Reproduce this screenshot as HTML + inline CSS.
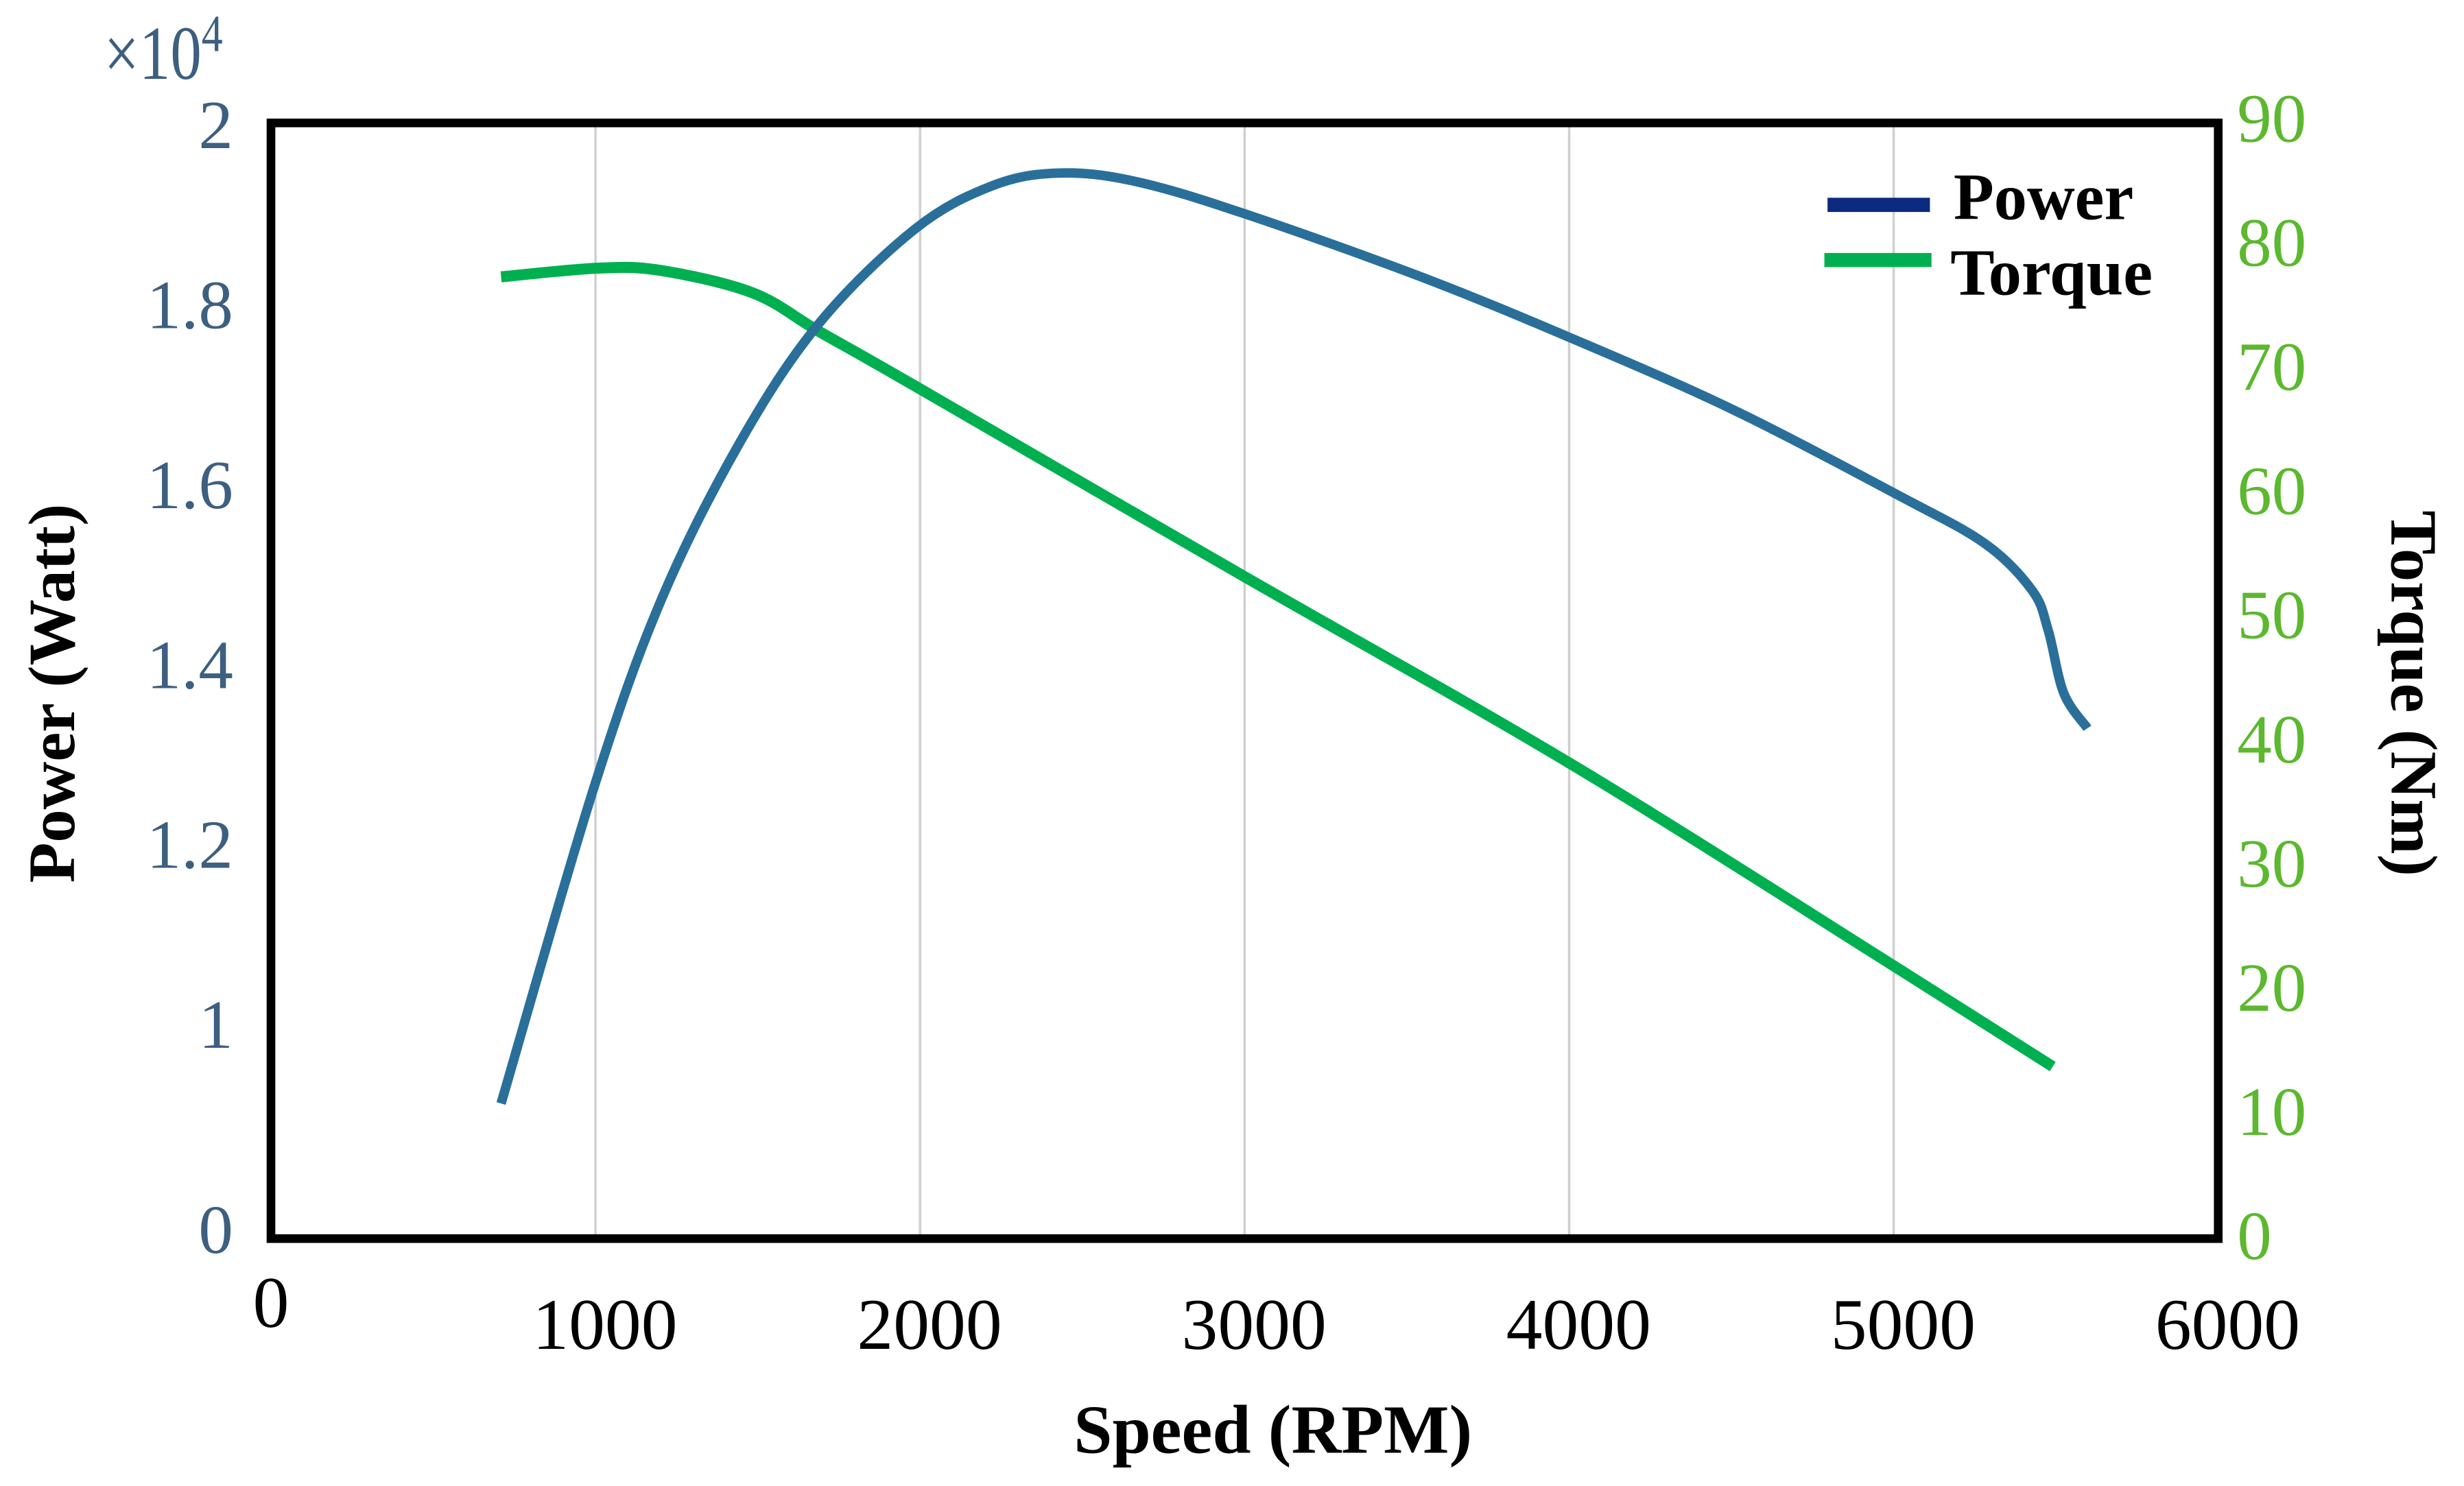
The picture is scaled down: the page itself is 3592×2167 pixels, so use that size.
<!DOCTYPE html>
<html><head><meta charset="utf-8"><style>
html,body{margin:0;padding:0;background:#fff;}
svg{display:block;}
text{font-family:"Liberation Serif",serif;}
</style></head><body>
<svg id="chart" width="3592" height="2167" viewBox="0 0 1564 943" preserveAspectRatio="none" xmlns="http://www.w3.org/2000/svg">
<g id="grid"></g>
<g id="series"></g>
<rect x="172" y="78" width="1236" height="708" fill="none" stroke="#000" stroke-width="5.5"/>
<g id="ticks"></g>
<text x="66" y="50" font-size="44" fill="#3d5f80" transform="translate(66,50) scale(0.9,1.1) translate(-66,-50)">×10<tspan dy="-16" font-size="30">4</tspan></text>
<text x="808" y="922" font-size="44" font-weight="bold" text-anchor="middle">Speed (RPM)</text>
<text transform="translate(47,440) rotate(-90)" font-size="42" font-weight="bold" text-anchor="middle">Power (Watt)</text>
<text transform="translate(1518,440) rotate(90)" font-size="42" font-weight="bold" text-anchor="middle">Torque (Nm)</text>
<g>
<line x1="1160" y1="130" x2="1225" y2="130" stroke="#0b2a80" stroke-width="9"/>
<text x="1240" y="139" font-size="42" font-weight="bold">Power</text>
<line x1="1158" y1="165" x2="1226" y2="165" stroke="#00b050" stroke-width="9"/>
<text x="1238" y="187" font-size="42" font-weight="bold">Torque</text>
</g>
</svg>
<script>
const speedPower=[709,995,1204,1447,1689,1985,2223,2427,2660,2990,3534,4010,4505,5019,5282,5427,5476,5524,5597];
const powerVals=[0.912,1.263,1.473,1.648,1.779,1.884,1.932,1.946,1.937,1.902,1.832,1.762,1.683,1.587,1.534,1.482,1.438,1.368,1.329];
const speedTorque=[709,1010,1204,1485,1689,1985,2990,4010,5019,5490];
const torqueVals=[77.2,77.9,77.7,75.9,72.8,68.4,53.2,37.9,21.4,13.6];
const xTicks=[0,1000,2000,3000,4000,5000,6000];
const powerTicks=[1,1.2,1.4,1.6,1.8,2];
const powerTickLabels=["1","1.2","1.4","1.6","1.8","2"];
const torqueTicks=[0,10,20,30,40,50,60,70,80,90];

const NS="http://www.w3.org/2000/svg";
const xS=v=>172+v*(1236/6000);
const pS=v=>650-(v-1)*571;
const tS=v=>784-v*7.88;
function mk(tag,attrs,parent){const e=document.createElementNS(NS,tag);for(const k in attrs)e.setAttribute(k,attrs[k]);parent.appendChild(e);return e;}
const grid=document.getElementById('grid'),ticks=document.getElementById('ticks'),series=document.getElementById('series');
xTicks.forEach(v=>{
  if(v>0&&v<6000){const g=mk('line',{x1:xS(v),x2:xS(v),y1:78,y2:786,stroke:'#cfcfcf','stroke-width':1.5},grid);
  
  }
  const t=mk('text',{x:xS(v)+(v===0?0:6),y:v===0?842:856,'font-size':46,'text-anchor':'middle',fill:'#000'},ticks);
  t.textContent=v;
  
  
});
powerTicks.forEach((v,i)=>{
  const t=mk('text',{x:148,y:pS(v)+15,'font-size':44,'text-anchor':'end',fill:'#3d5f80'},ticks);
  t.textContent=powerTickLabels[i];
  
  
});
const z=mk('text',{x:148,y:795,'font-size':44,'text-anchor':'end',fill:'#3d5f80'},ticks);
z.textContent="0";


torqueTicks.forEach(v=>{
  const t=mk('text',{x:1420,y:tS(v)+15,'font-size':44,fill:'#5cb82e'},ticks);
  t.textContent=v;
  
  
});
function smooth(xs,ys){let d='M'+xs[0]+','+ys[0];for(let i=0;i<xs.length-1;i++){const x0=xs[i-1]??xs[i],y0=ys[i-1]??ys[i],x3=xs[i+2]??xs[i+1],y3=ys[i+2]??ys[i+1];
const c1x=xs[i]+(xs[i+1]-x0)/6,c1y=ys[i]+(ys[i+1]-y0)/6,c2x=xs[i+1]-(x3-xs[i])/6,c2y=ys[i+1]-(y3-ys[i])/6;
d+=` C${c1x},${c1y} ${c2x},${c2y} ${xs[i+1]},${ys[i+1]}`;}return d;}
const tp=mk('path',{d:smooth(speedTorque.map(xS),torqueVals.map(tS)),fill:'none',stroke:'#00b050','stroke-width':7,'stroke-linejoin':'round'},series);


const pp=mk('path',{d:smooth(speedPower.map(xS),powerVals.map(pS)),fill:'none',stroke:'#2a6f9a','stroke-width':6,'stroke-linejoin':'round'},series);


</script>
</body></html>
